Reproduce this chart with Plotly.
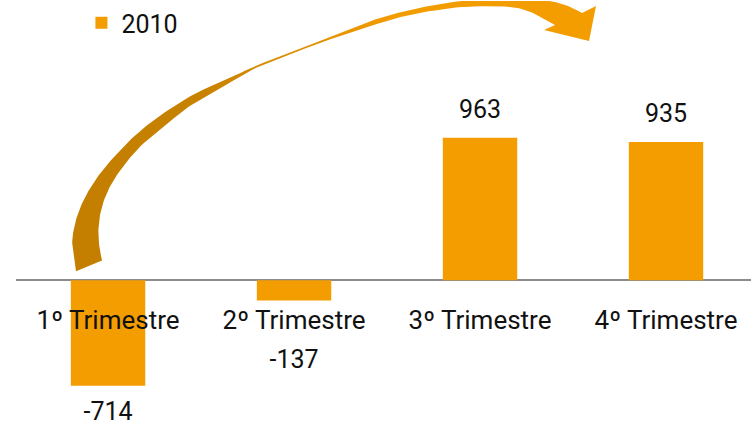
import numpy as np
import plotly.graph_objects as go

# data
quarters = ["1º Trimestre", "2º Trimestre", "3º Trimestre", "4º Trimestre"]
values_2010 = [-714, -137, 963, 935]
series_name = "2010"

BAR_COLOR = "#F49D00"
FONT = "Roboto"

W, H = 751, 429
M_L = 16

# decorative arrow outline, in page pixels (x right, y down)
arrow_outer = [(76, 271), (72.5, 248), (73, 233), (78, 213), (87, 193), (100, 173),
               (117, 153), (137, 133), (160, 115), (193, 94), (226, 79), (258, 64),
               (290, 52), (320, 40), (350, 28), (380, 17), (410, 9), (440, 3),
               (470, -1), (500, -3), (525, -3), (550, 0), (568, 5), (582, 12)]
arrow_head = [(596, 5), (589, 40), (544, 29)]
arrow_inner = [(555, 24), (533, 12), (510, 6), (470, 5.5), (437, 9), (403, 15.5),
               (377, 23), (353, 31), (320, 42), (290, 53.5), (260, 65), (226, 84),
               (193, 103), (167, 123), (143, 143), (123, 166), (110, 186), (102, 206),
               (98.5, 227), (99.3, 246), (102, 260)]


def smooth(points, n=12):
    # Catmull-Rom through the outline points
    p = np.array(points, dtype=float)
    p = np.vstack([2 * p[0] - p[1], p, 2 * p[-1] - p[-2]])
    out = []
    t = np.linspace(0, 1, n, endpoint=False)[:, None]
    for i in range(1, len(p) - 2):
        p0, p1, p2, p3 = p[i - 1], p[i], p[i + 1], p[i + 2]
        seg = 0.5 * ((2 * p1) + (-p0 + p2) * t + (2 * p0 - 5 * p1 + 4 * p2 - p3) * t ** 2
                     + (-p0 + 3 * p1 - 3 * p2 + p3) * t ** 3)
        out.append(seg)
    out.append(p[-2][None, :])
    return np.vstack(out)


fig = go.Figure()

fig.add_trace(go.Bar(
    x=quarters, y=values_2010, name=series_name,
    marker=dict(color=BAR_COLOR, line_width=0),
    width=0.4, showlegend=True,
))

# value labels
label_y = [v + 175 if v > 0 else min(v - 190, -553) for v in values_2010]
fig.add_trace(go.Scatter(
    x=quarters, y=label_y, mode="text",
    text=[str(v) for v in values_2010], textposition="middle center",
    textfont=dict(family=FONT, size=25, color="#111"),
    showlegend=False, hoverinfo="skip", cliponaxis=False,
))

# category labels sit just below the zero line, over the bars
fig.add_trace(go.Scatter(
    x=quarters, y=[-287] * len(quarters), mode="text",
    text=quarters, textposition="middle center",
    textfont=dict(family=FONT, size=26, color="#111"),
    showlegend=False, hoverinfo="skip", cliponaxis=False,
))

# curved arrow
outline = np.vstack([smooth(arrow_outer), np.array(arrow_head, dtype=float),
                     smooth(arrow_inner), np.array([arrow_outer[0]], dtype=float)])
fig.add_trace(go.Scatter(
    x=outline[:, 0], y=outline[:, 1],
    xaxis="x2", yaxis="y2", mode="lines", line=dict(width=0),
    fill="toself",
    fillgradient=dict(type="horizontal",
                      colorscale=[[0, "#C47E00"], [0.25, "#C88200"],
                                  [0.62, "#F39C00"], [1, "#F49D00"]]),
    showlegend=False, hoverinfo="skip",
))

fig.update_layout(
    width=W, height=H,
    margin=dict(l=M_L, r=0, t=0, b=0),
    paper_bgcolor="white", plot_bgcolor="white",
    bargap=0.6,
    font=dict(family=FONT, size=25, color="#111"),
    legend=dict(x=0.089, y=1.003, xanchor="left", yanchor="top",
                font=dict(family=FONT, size=25, color="#111"),
                bgcolor="rgba(0,0,0,0)"),
    xaxis=dict(range=[-0.495, 3.457], visible=False, fixedrange=True),
    yaxis=dict(range=[-1007, 1889], showgrid=False, showticklabels=False,
               zeroline=True, zerolinecolor="#8C8C8C", zerolinewidth=2,
               fixedrange=True),
    xaxis2=dict(range=[M_L, W], overlaying="x", visible=False, fixedrange=True),
    yaxis2=dict(range=[H, 0], overlaying="y", visible=False, fixedrange=True),
)

fig.write_html("out.html", config={"displayModeBar": False},
               post_script="document.body.style.margin = '0';")
